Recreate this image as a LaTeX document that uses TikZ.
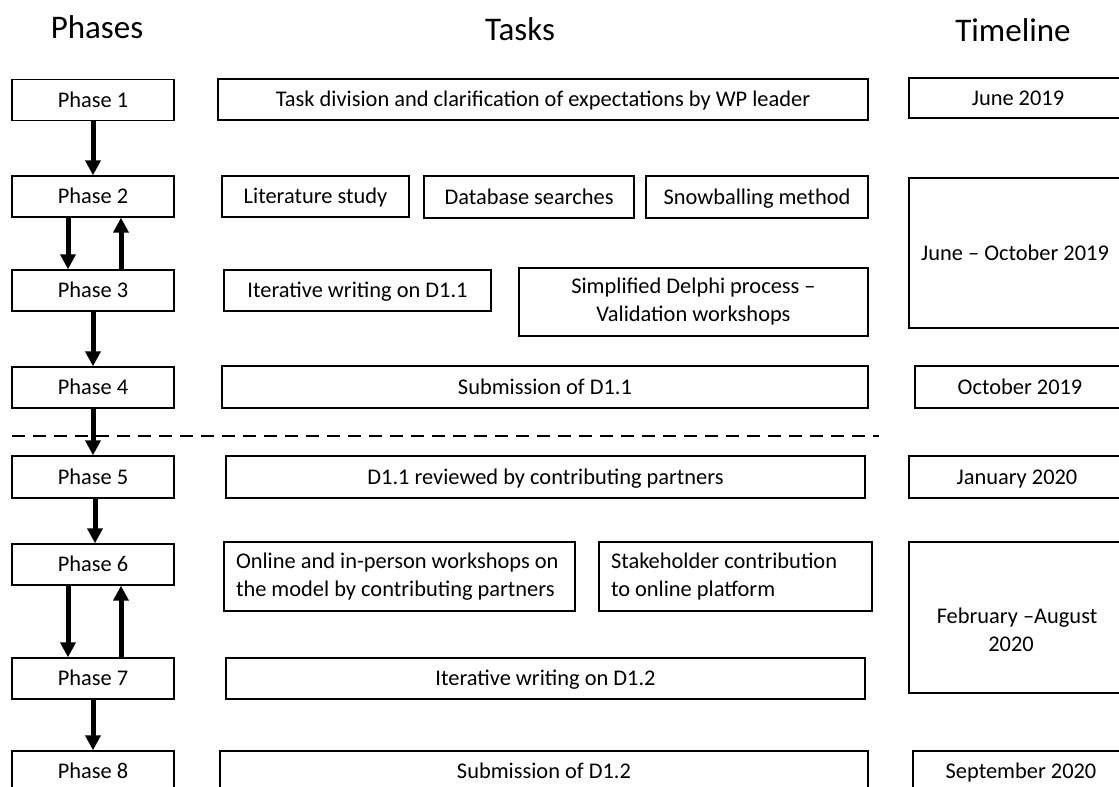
\documentclass[tikz,border=0pt]{standalone}
\usepackage{fontspec}
\setmainfont{Carlito}
\usetikzlibrary{arrows.meta}

\begin{document}
\begin{tikzpicture}[x=1pt,y=-1pt,>={Triangle[width=15pt,length=15pt]},
  box/.style={draw,line width=1.4pt,inner sep=0pt,align=center,text height=14.4pt,text depth=0pt,
    font=\fontsize{22.4}{28}\selectfont},
  twolines/.style={text height=,text depth=},
  sized/.style 2 args={minimum width=#1pt,minimum height=#2pt},
  phasebox/.style={box,sized={162}{41}},
  leftbox/.style={box,twolines,inner xsep=12pt,text width=#1pt-24pt,align=flush left,sized={#1}{69}},
  heading/.style={anchor=base,font=\fontsize{33}{40}\selectfont},
  flow/.style={->,line width=5pt},
  cutline/.style={line width=1.5pt,dash pattern=on 13pt off 8pt}]
  \clip (0,0) rectangle (1119,787);
  % column titles
  \node[heading] (hph) at (97,38){Phases};
  \node[heading] (hta) at (520,40){Tasks};
  \node[heading] (htl) at (1013,41){Timeline};
  % phases
  \node[phasebox] (p1) at (93,100){Phase 1};
  \node[phasebox] (p2) at (93,196.5){Phase 2};
  \node[phasebox] (p3) at (93,290.5){Phase 3};
  \node[phasebox] (p4) at (93,387.5){Phase 4};
  \node[phasebox,sized={162}{42}] (p5) at (93,477){Phase 5};
  \node[phasebox] (p6) at (93,564.5){Phase 6};
  \node[phasebox] (p7) at (93,678.5){Phase 7};
  \node[phasebox] (p8) at (93,771.5){Phase 8};
  % tasks
  \node[box,sized={650}{41}] (t1) at (543,99.5){Task division and clarification of expectations by WP leader};
  \node[box,sized={187}{41}] (lit) at (315.5,196.5){Literature study};
  \node[box,sized={210}{42}] (db) at (529,197){Database searches};
  \node[box,sized={222}{42}] (snow) at (757,197){Snowballing method};
  \node[box,sized={267}{41}] (itA) at (357.5,290.5){Iterative writing on D1.1};
  \node[box,twolines,sized={349}{68}] (delphi) at (693.5,302){Simplified Delphi process –\\Validation workshops};
  \node[box,sized={646}{42}] (subA) at (545,387){Submission of D1.1};
  \node[box,sized={639}{42}] (rev) at (545.5,477){D1.1 reviewed by contributing partners};
  \node[leftbox=351] (onl) at (399.5,576.5){Online and in-person workshops on\\the model by contributing partners};
  \node[leftbox=273] (stk) at (735.5,576.5){Stakeholder contribution\\to online platform};
  \node[box,sized={639}{41}] (itB) at (545.5,678.5){Iterative writing on D1.2};
  \node[box,sized={648}{41}] (subB) at (544,771.5){Submission of D1.2};
  % timeline
  \node[box,sized={218}{40}] (jun) at (1018,98){June 2019};
  \node[box,sized={212}{150}] (junoct) at (1015,253){June – October 2019};
  \node[box,sized={210}{42}] (oct) at (1020,387){October 2019};
  \node[box,sized={216}{42}] (jan) at (1017,477){January 2020};
  \node[box,twolines,sized={216}{151}] (febaug) at (1017,617.5){\strut\\February –August\\\hspace*{-12pt}2020\strut};
  \node[box,sized={216}{41}] (sep) at (1021,771.5){September 2020};
  % flow between phases
  \draw[flow] (p1) -- (p2);
  \draw[flow] ([xshift=-25pt]p2.south) -- ([xshift=-25pt]p3.north);
  \draw[flow] ([xshift=28pt]p3.north) -- ([xshift=28pt]p2.south);
  \draw[flow] (p3) -- (p4);
  \coordinate (cutL) at (12,436);
  \coordinate (cutR) at (879,436);
  \draw[cutline] (cutL) -- (cutR);
  \draw[flow] (p4) -- (p5);
  \draw[flow] ([xshift=2pt]p5.south) -- ([xshift=2pt]p6.north);
  \draw[flow] ([xshift=-25pt]p6.south) -- ([xshift=-25pt]p7.north);
  \draw[flow] ([xshift=28pt]p7.north) -- ([xshift=28pt]p6.south);
  \draw[flow] (p7) -- (p8);
\end{tikzpicture}
\end{document}
